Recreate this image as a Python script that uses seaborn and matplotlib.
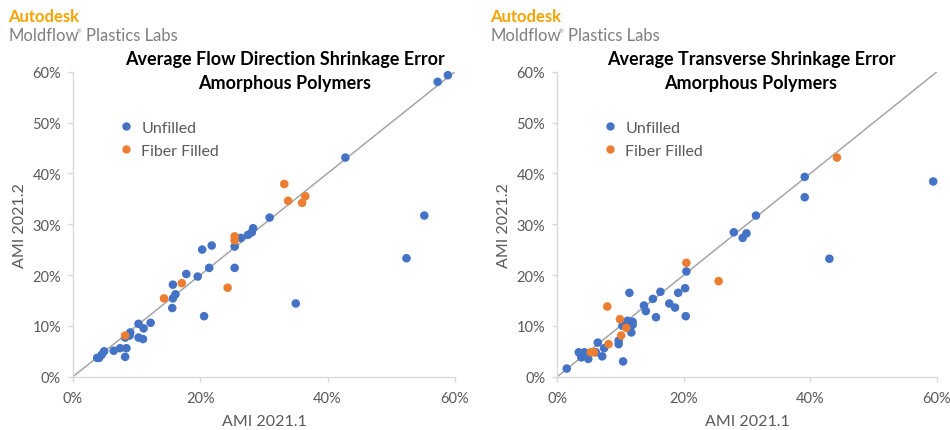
import pandas as pd
import matplotlib
matplotlib.use("Agg")
import matplotlib.pyplot as plt
import seaborn as sns
from matplotlib.ticker import PercentFormatter
from matplotlib.lines import Line2D

# Flow direction chart (AMI 2021.1 %, AMI 2021.2 %)
flow_unfilled_x = [58.9, 57.3, 42.8, 55.2, 52.4, 35.0, 30.9, 28.3, 28.1, 27.5, 26.4, 25.4, 25.4,
                   21.8, 20.3, 21.4, 19.6, 17.8, 15.7, 16.1, 15.7, 15.6, 20.6, 12.2, 10.3, 11.1,
                   10.3, 11.0, 9.0, 8.9, 8.2, 8.4, 7.4, 6.4, 8.2, 4.9, 4.5, 4.1, 3.8]
flow_unfilled_y = [59.3, 58.0, 43.1, 31.7, 23.3, 14.4, 31.3, 29.2, 28.4, 27.9, 27.3, 25.6, 21.4,
                   25.8, 25.0, 21.4, 19.7, 20.2, 18.1, 16.2, 15.4, 13.5, 11.9, 10.6, 10.4, 9.5,
                   7.7, 7.4, 8.7, 8.1, 7.7, 5.6, 5.6, 5.1, 3.9, 5.0, 4.3, 3.7, 3.7]
flow_fiber_x = [33.2, 33.8, 36.5, 36.0, 25.4, 25.4, 17.1, 14.3, 24.3, 8.2]
flow_fiber_y = [37.9, 34.6, 35.5, 34.2, 27.6, 26.8, 18.4, 15.4, 17.5, 8.1]

# Transverse chart
trans_unfilled_x = [59.4, 39.1, 39.1, 43.0, 31.4, 27.9, 29.9, 29.3, 20.4, 20.2, 20.3, 19.1, 16.3,
                    15.1, 17.7, 18.6, 13.7, 14.0, 15.6, 11.4, 11.1, 11.9, 11.9, 11.7, 10.3, 9.7,
                    9.7, 10.4, 6.4, 7.4, 7.1, 4.9, 4.3, 3.4, 3.8, 4.4, 6.1, 1.5]
trans_unfilled_y = [38.4, 39.3, 35.3, 23.2, 31.7, 28.4, 28.2, 27.3, 20.7, 17.4, 11.9, 16.5, 16.7,
                    15.3, 14.4, 13.6, 14.0, 12.9, 11.7, 16.5, 11.0, 10.8, 10.2, 8.7, 10.0, 7.1,
                    6.4, 3.0, 6.7, 5.6, 4.0, 3.5, 4.8, 4.8, 3.8, 4.1, 4.8, 1.6]
trans_fiber_x = [44.2, 20.4, 25.5, 7.9, 9.9, 10.9, 10.1, 8.1, 5.3, 5.8]
trans_fiber_y = [43.1, 22.4, 18.8, 13.8, 11.3, 9.6, 8.1, 6.4, 4.8, 4.8]

groups = ["Unfilled", "Fiber Filled"]
titles = ["Average Flow Direction Shrinkage Error\nAmorphous Polymers",
          "Average Transverse Shrinkage Error\nAmorphous Polymers"]
tick_values = [0, 10, 20, 30, 40, 50, 60]

BLUE = "#4472C4"
ORANGE = "#ED7D31"
GRID = "#D9D9D9"
TXT = "#595959"


def make_frame(ux, uy, fx, fy):
    return pd.DataFrame({
        "x": ux + fx,
        "y": uy + fy,
        "group": [groups[0]] * len(ux) + [groups[1]] * len(fx),
    })


sns.set_theme(style="white")
plt.rcParams["font.family"] = ["Lato", "DejaVu Sans"]

W, H = 950, 431
fig = plt.figure(figsize=(9.5, 4.31), dpi=100)
ax1 = fig.add_axes([0.0768, 0.1237, 0.402, 0.7077])
ax2 = fig.add_axes([0.5866, 0.1237, 0.3997, 0.7077])

frames = [make_frame(flow_unfilled_x, flow_unfilled_y, flow_fiber_x, flow_fiber_y),
          make_frame(trans_unfilled_x, trans_unfilled_y, trans_fiber_x, trans_fiber_y)]
title_x = [285, 751]

for ax, df, title, tx in zip([ax1, ax2], frames, titles, title_x):
    ax.plot([0, 60], [0, 60], color="#A5A5A5", lw=1.1, zorder=1)
    sns.scatterplot(data=df, x="x", y="y", hue="group", hue_order=groups,
                    palette=[BLUE, ORANGE], s=38, linewidth=0, ax=ax, zorder=3,
                    legend=False, clip_on=False)
    ax.set_xlim(0, 60)
    ax.set_ylim(0, 60)
    ax.set_xticks([0, 20, 40, 60])
    ax.set_yticks(tick_values)
    ax.xaxis.set_major_formatter(PercentFormatter(decimals=0))
    ax.yaxis.set_major_formatter(PercentFormatter(decimals=0))
    for side in ["top", "right"]:
        ax.spines[side].set_visible(False)
    for side in ["left", "bottom"]:
        ax.spines[side].set_color(GRID)
        ax.spines[side].set_linewidth(1)
    ax.tick_params(axis="both", which="both", length=3.6, width=1, color=GRID,
                   labelcolor=TXT, labelsize=10.5, direction="out")
    ax.tick_params(axis="x", bottom=True, pad=6.5)
    ax.tick_params(axis="y", left=True, pad=5)
    ax.set_xlabel("AMI 2021.1", fontsize=11.5, color=TXT, labelpad=7)
    ax.set_ylabel("AMI 2021.2", fontsize=11.5, color=TXT, labelpad=4)
    fig.text(tx / W, 1 - 71.5 / H, title, ha="center", va="center",
             fontsize=13, fontweight="bold", color="black", linespacing=1.55)
    handles = [Line2D([], [], marker="o", ls="", color=c, markersize=5) for c in [BLUE, ORANGE]]
    ax.legend(handles, groups, loc="upper left", bbox_to_anchor=(0.118, 0.84),
              frameon=False, fontsize=11.5, labelcolor=TXT, handlelength=1,
              handletextpad=0.45, labelspacing=0.55, borderaxespad=0, borderpad=0)

# Logos
for x0 in [8, 490]:
    fig.text(x0 / W, 1 - 17 / H, "Autodesk", color="#F5A300", fontsize=12,
             fontweight="bold", va="center", ha="left")
    fig.text(x0 / W, 1 - 36 / H, "Moldflow", color="#7F7F7F", fontsize=12,
             va="center", ha="left")
    fig.text((x0 + 69) / W, 1 - 32 / H, "\u00ae", color="#7F7F7F", fontsize=4,
             va="center", ha="left")
    fig.text((x0 + 78) / W, 1 - 36 / H, "Plastics Labs", color="#7F7F7F", fontsize=12,
             va="center", ha="left")

fig.savefig("out.png", dpi=100)
